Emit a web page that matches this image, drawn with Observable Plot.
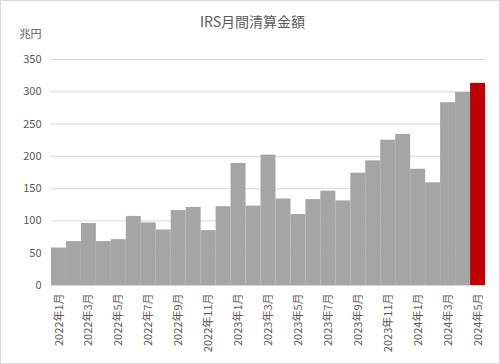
<!DOCTYPE html>
<html><head><meta charset="utf-8">
<script src="https://cdn.jsdelivr.net/npm/d3@7"></script>
<script src="https://cdn.jsdelivr.net/npm/@observablehq/plot@0.6"></script>
<style>
html,body{margin:0;padding:0;background:#fff;}
#chart svg{display:block;outline:1px solid #d9d9d9;outline-offset:-1px;}
</style>
</head><body><div id="chart"></div>
<script>
const title = "IRS月間清算金額";
const unitLabel = "兆円";
const months = ["2022年1月","2022年2月","2022年3月","2022年4月","2022年5月","2022年6月","2022年7月","2022年8月","2022年9月","2022年10月","2022年11月","2022年12月","2023年1月","2023年2月","2023年3月","2023年4月","2023年5月","2023年6月","2023年7月","2023年8月","2023年9月","2023年10月","2023年11月","2023年12月","2024年1月","2024年2月","2024年3月","2024年4月","2024年5月"];
const values = [58,68,96,68,71,107,97,86,116,121,85,122,189,123,202,134,110,133,146,131,174,193,225,234,180,159,283,299,313];
const xTicks = ["2022年1月","2022年3月","2022年5月","2022年7月","2022年9月","2022年11月","2023年1月","2023年3月","2023年5月","2023年7月","2023年9月","2023年11月","2024年1月","2024年3月","2024年5月"];
const yTicks = [0,50,100,150,200,250,300,350];
const highlight = "2024年5月";

const data = months.map((m,i)=>({month:m, value:values[i]}));

const chart = Plot.plot({
  width:500, height:364,
  marginLeft:51, marginRight:15, marginTop:59, marginBottom:79,
  style:{fontFamily:"'Noto Sans CJK JP', 'Noto Sans', sans-serif", fontSize:"11px", color:"#595959", background:"#fff"},
  x:{type:"band", domain:months, padding:0, round:false, label:null},
  y:{domain:[0,350], label:null},
  marks:[
    Plot.gridY(yTicks, {stroke:"#d9d9d9", strokeOpacity:1}),
    Plot.barY(data, {x:"month", y:"value", fill:d=>d.month===highlight?"#c00000":"#a5a5a5"}),
    Plot.ruleY([0], {stroke:"#d9d9d9"}),
    Plot.axisY(yTicks, {tickSize:0, tickPadding:10, label:null, fontSize:11}),
    Plot.axisX(xTicks, {tickSize:0, tickPadding:8, tickRotate:-90, label:null, fontSize:11}),
    Plot.text([title], {frameAnchor:"top", dx:-16, dy:-37, lineAnchor:"middle", fontSize:14, fill:"#595959"}),
    Plot.text([unitLabel], {frameAnchor:"top-left", dx:-32, dy:-25, textAnchor:"start", lineAnchor:"middle", fontSize:11, fill:"#595959"})
  ]
});
document.getElementById("chart").append(chart);
</script></body></html>
